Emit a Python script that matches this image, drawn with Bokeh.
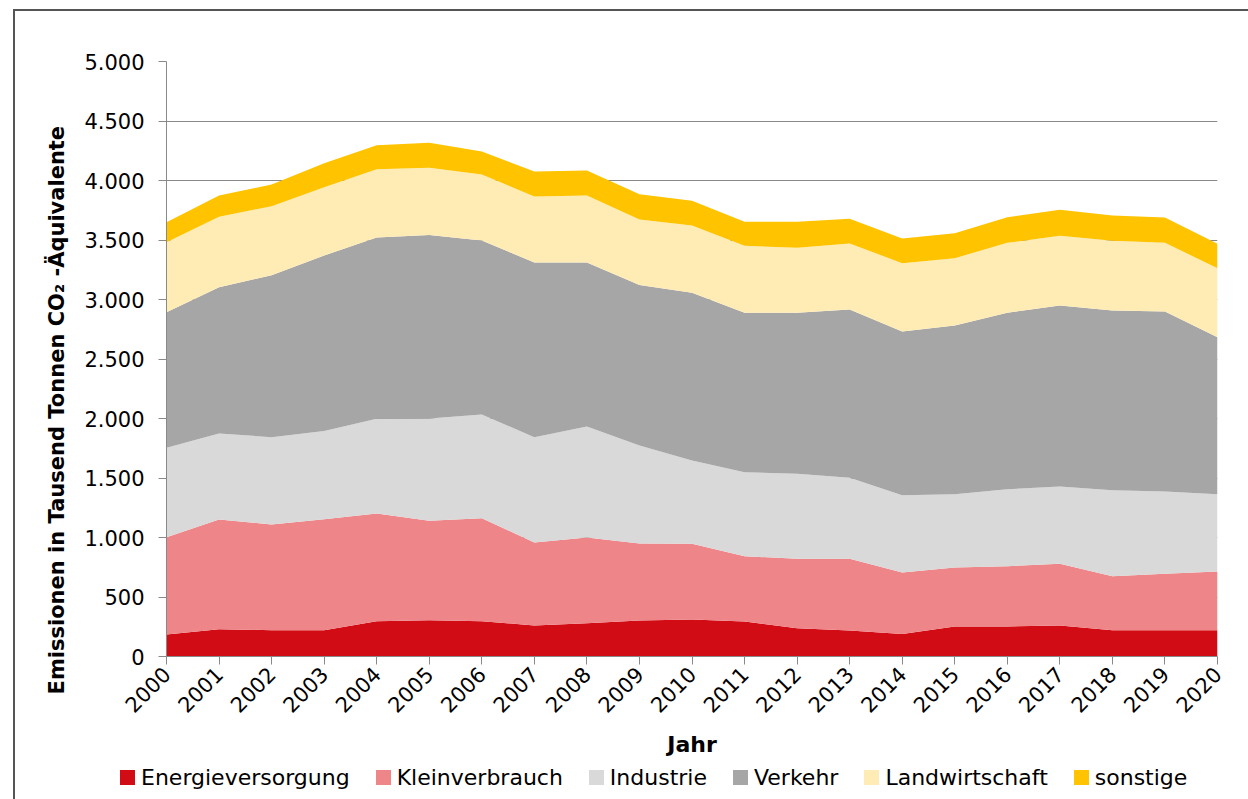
import math
from bokeh.plotting import figure
from bokeh.layouts import column
from bokeh.models import (ColumnDataSource, Range1d, FixedTicker, Div)
from bokeh.embed import file_html
from bokeh.resources import INLINE

years = list(range(2000, 2021))
energie = [185, 230, 221, 221, 297, 305, 297, 260, 280, 303, 311, 294, 238, 218, 190, 252, 252, 260, 221, 221, 221]
klein = [818, 921, 888, 933, 905, 835, 865, 698, 720, 647, 636, 549, 583, 603, 516, 496, 507, 519, 454, 474, 493]
industrie = [751, 723, 734, 740, 795, 860, 872, 885, 933, 823, 700, 706, 714, 681, 650, 616, 647, 650, 723, 692, 650]
verkehr = [1139, 1229, 1361, 1476, 1524, 1541, 1462, 1468, 1378, 1348, 1409, 1339, 1353, 1414, 1375, 1418, 1482, 1521, 1510, 1512, 1319]
landw = [589, 592, 580, 574, 574, 566, 554, 555, 563, 551, 566, 563, 546, 555, 574, 565, 588, 585, 585, 577, 580]
sonstige = [168, 179, 182, 202, 202, 210, 194, 210, 210, 213, 207, 202, 219, 207, 208, 210, 216, 219, 213, 213, 205]

series_names = ["Energieversorgung", "Kleinverbrauch", "Industrie", "Verkehr", "Landwirtschaft", "sonstige"]
colors = ["#D20C14", "#EE8588", "#D9D9D9", "#A6A6A6", "#FFECB5", "#FFC300"]

y_ticks = [0, 500, 1000, 1500, 2000, 2500, 3000, 3500, 4000, 4500, 5000]
y_tick_labels = ["0", "500", "1.000", "1.500", "2.000", "2.500", "3.000", "3.500", "4.000", "4.500", "5.000"]

y_label = "Emissionen in Tausend Tonnen CO\u2082 -\u00c4quivalente"
x_label = "Jahr"

source = ColumnDataSource(dict(
    year=years,
    Energieversorgung=energie,
    Kleinverbrauch=klein,
    Industrie=industrie,
    Verkehr=verkehr,
    Landwirtschaft=landw,
    sonstige=sonstige,
))

FONT = "DejaVu Sans"
AXIS_COLOR = "#898989"
FRAME = "2px solid #555555"

p = figure(width=1233, height=749, output_backend="svg", toolbar_location=None,
           x_range=Range1d(2000, 2020), y_range=Range1d(0, 5000),
           min_border_left=151, min_border_top=50, min_border_right=31, min_border_bottom=104)

p.outline_line_color = None
p.background_fill_color = "white"
p.border_fill_color = "white"

renderers = p.varea_stack(stackers=series_names, x="year", color=colors, source=source)

# grid
p.xgrid.visible = False
p.ygrid.ticker = FixedTicker(ticks=y_ticks)
p.ygrid.grid_line_color = AXIS_COLOR
p.ygrid.grid_line_width = 1

# y axis
ya = p.yaxis[0]
ya.ticker = FixedTicker(ticks=y_ticks)
ya.major_label_overrides = {t: l for t, l in zip(y_ticks, y_tick_labels)}
ya.minor_tick_line_color = None
ya.major_tick_out = 8
ya.major_tick_in = 0
ya.axis_line_color = AXIS_COLOR
ya.major_tick_line_color = AXIS_COLOR
ya.major_label_text_font = FONT
ya.major_label_text_font_size = "21px"
ya.major_label_text_color = "black"
ya.major_label_standoff = 14
ya.axis_label = y_label + "\u00a0" * 14
ya.axis_label_text_font = FONT
ya.axis_label_text_font_style = "bold"
ya.axis_label_text_font_size = "21px"
ya.axis_label_text_color = "black"
ya.axis_label_standoff = 12

# x axis
xa = p.xaxis[0]
xa.ticker = FixedTicker(ticks=years)
xa.minor_tick_line_color = None
xa.major_tick_out = 8
xa.major_tick_in = 0
xa.axis_line_color = AXIS_COLOR
xa.major_tick_line_color = AXIS_COLOR
xa.major_label_orientation = math.pi / 4
xa.major_label_text_font = FONT
xa.major_label_text_font_size = "21px"
xa.major_label_text_color = "black"
xa.major_label_standoff = 6
xa.axis_label = x_label
xa.axis_label_text_font = FONT
xa.axis_label_text_font_style = "bold"
xa.axis_label_text_font_size = "22px"
xa.axis_label_text_color = "black"
xa.axis_label_standoff = 9

# legend strip below the chart, built from the series names and colours
items_html = "".join(
    f'<span style="display:inline-flex;align-items:center;margin-right:26px;">'
    f'<span style="display:inline-block;width:15px;height:15px;background:{c};margin-right:6px;"></span>'
    f'<span>{n}</span></span>'
    for n, c in zip(series_names, colors)
)
legend_html = (
    f'<div style="display:flex;align-items:center;height:25px;padding-left:100px;'
    f'font-family:\'{FONT}\';font-size:22px;color:black;white-space:nowrap;">{items_html}</div>'
)
legend_div = Div(text=legend_html, width=1233, height=38)

layout = column(p, legend_div, spacing=0,
                styles={"border-left": FRAME, "border-top": FRAME,
                        "margin-left": "13px", "margin-top": "9px"})
open("out.html", "w").write(file_html(layout, INLINE))
